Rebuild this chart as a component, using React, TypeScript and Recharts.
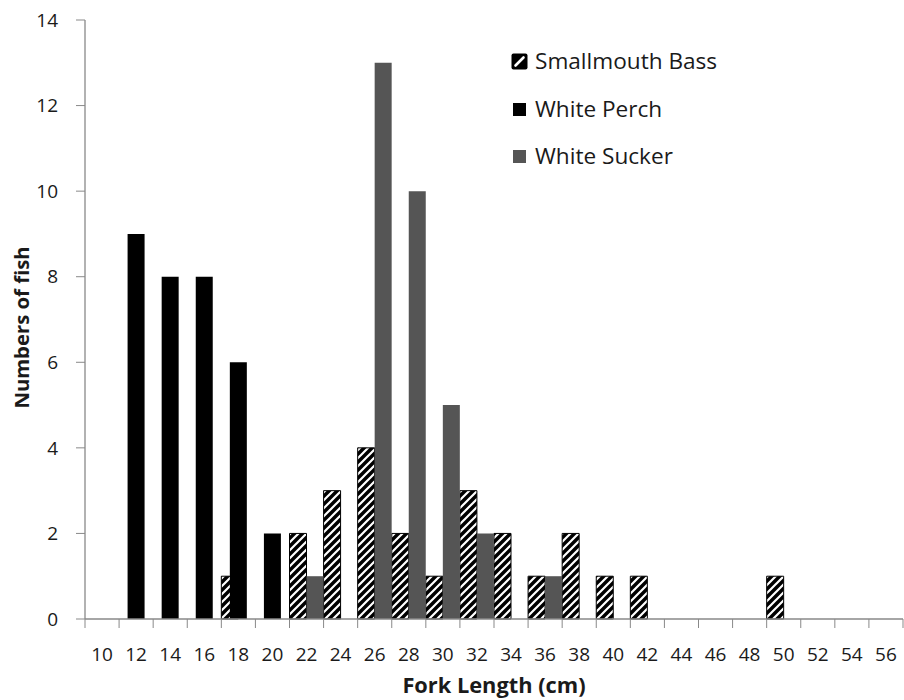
import React from 'react';
import { BarChart, Bar, XAxis, YAxis, Legend, Label } from 'recharts';

// ---- data ----
const forkLengths = [10, 12, 14, 16, 18, 20, 22, 24, 26, 28, 30, 32, 34, 36, 38, 40, 42, 44, 46, 48, 50, 52, 54, 56];
const smallmouthBass = [0, 0, 0, 0, 1, 0, 2, 3, 4, 2, 1, 3, 2, 1, 2, 1, 1, 0, 0, 0, 1, 0, 0, 0];
const whitePerch = [0, 9, 8, 8, 6, 2, 0, 0, 0, 0, 0, 0, 0, 0, 0, 0, 0, 0, 0, 0, 0, 0, 0, 0];
const whiteSucker = [0, 0, 0, 0, 0, 0, 1, 0, 13, 10, 5, 2, 0, 1, 0, 0, 0, 0, 0, 0, 0, 0, 0, 0];
const yTicks = [0, 2, 4, 6, 8, 10, 12, 14];
const seriesNames = ['Smallmouth Bass', 'White Perch', 'White Sucker'];
const xTitle = 'Fork Length (cm)';
const yTitle = 'Numbers of fish';

const data = forkLengths.map((len, i) => ({
  length: String(len),
  bass: smallmouthBass[i],
  perch: whitePerch[i],
  sucker: whiteSucker[i],
}));

// ---- style ----
const FONT = '"Open Sans", sans-serif';
const AXIS_COLOR = '#898989';
const TEXT_COLOR = '#1a1a1a';
const PERCH_COLOR = '#000000';
const SUCKER_COLOR = '#555555';
const W = 904;
const H = 700;
const X_AXIS_H = 81;
const Y_AXIS_W = 85;

function XTick(props: any) {
  const { x, y, payload, index, visibleTicksCount } = props;
  const half = typeof payload?.offset === 'number' && payload.offset > 0 ? payload.offset : 17.04;
  return (
    <g>
      <line x1={x - half} x2={x - half} y1={y} y2={y + 9} stroke={AXIS_COLOR} strokeWidth={1} />
      {index === visibleTicksCount - 1 ? (
        <line x1={x + half} x2={x + half} y1={y} y2={y + 9} stroke={AXIS_COLOR} strokeWidth={1} />
      ) : null}
      <text x={x} y={y + 42} textAnchor="middle" fontSize={19} fill={TEXT_COLOR} fontFamily={FONT}>
        {payload.value}
      </text>
    </g>
  );
}

function Marker({ kind }: { kind: string }) {
  if (kind === 'bass') {
    return (
      <svg width={17} height={17} style={{ display: 'block' }}>
        <rect x={0.5} y={0.5} width={16} height={16} rx={2} fill="#000" />
        <line x1={4.5} y1={12.5} x2={12.5} y2={4.5} stroke="#fff" strokeWidth={2.6} strokeLinecap="round" />
      </svg>
    );
  }
  return (
    <svg width={17} height={17} style={{ display: 'block' }}>
      <rect x={2} y={2} width={13} height={13} fill={kind === 'perch' ? PERCH_COLOR : SUCKER_COLOR} />
    </svg>
  );
}

function LegendContent() {
  const kinds = ['bass', 'perch', 'sucker'];
  return (
    <div style={{ fontFamily: FONT }}>
      {seriesNames.map((name, i) => (
        <div key={name} style={{ display: 'flex', alignItems: 'center', height: 47.5 }}>
          <Marker kind={kinds[i]} />
          <span style={{ marginLeft: 7, fontSize: 22.6, color: TEXT_COLOR, lineHeight: 1, whiteSpace: 'nowrap' }}>{name}</span>
        </div>
      ))}
    </div>
  );
}

export default function App() {
  return (
    <div style={{ position: 'absolute', left: 0, top: 0, width: W, height: H, background: '#fff' }}>
      <BarChart
        width={W}
        height={H}
        data={data}
        margin={{ top: 20, right: 1, left: 0, bottom: 0 }}
        barCategoryGap={0}
        barGap={-8.5}
      >
        <defs>
          <pattern id="bassHatch" patternUnits="userSpaceOnUse" width={8} height={8}>
            <rect width={8} height={8} fill="#000" />
            <path d="M-2,2 L2,-2 M0,8 L8,0 M6,10 L10,6" stroke="#fff" strokeWidth={2.2} />
          </pattern>
        </defs>
        <XAxis
          dataKey="length"
          height={X_AXIS_H}
          interval={0}
          tickLine={false}
          tickSize={0}
          tickMargin={0}
          axisLine={{ stroke: AXIS_COLOR, strokeWidth: 1.3 }}
          tick={<XTick />}
        >
          <Label
            content={(p: any) => {
              const vb = p.viewBox || { x: 85, y: 619, width: 818, height: 81 };
              return (
                <text
                  x={vb.x + vb.width / 2}
                  y={vb.y + 74}
                  textAnchor="middle"
                  fontSize={21.8}
                  fontWeight={700}
                  fill={TEXT_COLOR}
                  fontFamily={FONT}
                >
                  {xTitle}
                </text>
              );
            }}
          />
        </XAxis>
        <YAxis
          width={Y_AXIS_W}
          domain={[0, 14]}
          ticks={yTicks}
          interval={0}
          tickSize={9}
          tickMargin={18}
          tickLine={{ stroke: AXIS_COLOR }}
          axisLine={{ stroke: AXIS_COLOR, strokeWidth: 1.3 }}
          tick={{ fontSize: 19, fill: TEXT_COLOR, fontFamily: FONT }}
        >
          <Label
            content={(p: any) => {
              const vb = p.viewBox || { x: 0, y: 20, width: 85, height: 599 };
              const cx = vb.x + 21;
              const cy = vb.y + vb.height / 2 + 8;
              return (
                <text
                  x={cx}
                  y={cy}
                  transform={`rotate(-90 ${cx} ${cy})`}
                  textAnchor="middle"
                  dominantBaseline="central"
                  fontSize={20.3}
                  fontWeight={700}
                  fill={TEXT_COLOR}
                  fontFamily={FONT}
                >
                  {yTitle}
                </text>
              );
            }}
          />
        </YAxis>
        <Legend
          layout="vertical"
          align="center"
          verticalAlign="middle"
          content={<LegendContent />}
          wrapperStyle={{ left: 511, top: 38, width: 260 }}
        />
        <Bar dataKey="bass" name={seriesNames[0]} barSize={17} fill="url(#bassHatch)" stroke="#000" strokeWidth={1} isAnimationActive={false} />
        <Bar dataKey="perch" name={seriesNames[1]} barSize={17} fill={PERCH_COLOR} isAnimationActive={false} />
        <Bar dataKey="sucker" name={seriesNames[2]} barSize={17} fill={SUCKER_COLOR} isAnimationActive={false} />
      </BarChart>
    </div>
  );
}
